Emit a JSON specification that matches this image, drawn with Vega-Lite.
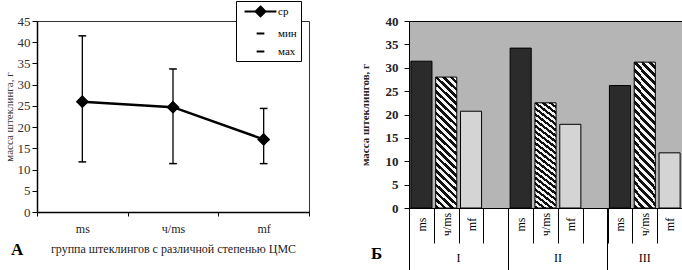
{
 "$schema": "https://vega.github.io/schema/vega-lite/v6.json",
 "padding": {"left": 2, "top": 0, "right": 1, "bottom": 0},
 "background": "white",
 "spacing": 48,
 "config": {"font": "Liberation Serif"},
 "datasets": {
  "a": [
   {"g": "ms", "s": "ср", "v": 26.0},
   {"g": "ms", "s": "мин", "v": 11.8},
   {"g": "ms", "s": "мах", "v": 41.5},
   {"g": "ч/ms", "s": "ср", "v": 24.7},
   {"g": "ч/ms", "s": "мин", "v": 11.4},
   {"g": "ч/ms", "s": "мах", "v": 33.7},
   {"g": "mf", "s": "ср", "v": 17.1},
   {"g": "mf", "s": "мин", "v": 11.4},
   {"g": "mf", "s": "мах", "v": 24.4}
  ],
  "b": [
   {"grp": "I", "t": "ms", "slot": "I|ms", "v": 31.4},
   {"grp": "I", "t": "ч/ms", "slot": "I|ч/ms", "v": 28.0},
   {"grp": "I", "t": "mf", "slot": "I|mf", "v": 20.7},
   {"grp": "II", "t": "ms", "slot": "II|ms", "v": 34.2},
   {"grp": "II", "t": "ч/ms", "slot": "II|ч/ms", "v": 22.5},
   {"grp": "II", "t": "mf", "slot": "II|mf", "v": 17.9},
   {"grp": "III", "t": "ms", "slot": "III|ms", "v": 26.2},
   {"grp": "III", "t": "ч/ms", "slot": "III|ч/ms", "v": 31.2},
   {"grp": "III", "t": "mf", "slot": "III|mf", "v": 11.8}
  ]
 },
 "hconcat": [
  {
   "width": 272,
   "height": 191,
   "view": {"stroke": "#333", "strokeWidth": 1},
   "title": {"text": "А", "orient": "bottom", "anchor": "start", "frame": "bounds", "font": "Liberation Serif", "fontSize": 17, "fontWeight": "bold", "color": "black", "offset": 0, "dx": 8, "dy": -12},
   "data": {"name": "a"},
   "layer": [
    {
     "mark": {"type": "rule", "color": "black", "strokeWidth": 1.3},
     "encoding": {
      "x": {"field": "g", "type": "nominal", "scale": {"type": "band", "domain": ["ms", "ч/ms", "mf"], "paddingInner": 0, "paddingOuter": 0},
            "axis": {"tickBand": "extent", "tickSize": 4, "tickColor": "black", "domainColor": "black", "domainWidth": 1.5, "labelAngle": 0, "labelFont": "Liberation Serif", "labelFontSize": 12, "labelColor": "#222", "labelPadding": 7, "title": "группа штеклингов с различной степенью ЦМС", "titleFont": "Liberation Serif", "titleFontSize": 12, "titleFontWeight": "normal", "titleColor": "#222", "titlePadding": 9, "grid": false}},
      "y": {"aggregate": "min", "field": "v", "type": "quantitative", "title": "масса штеклинга, г", "scale": {"domain": [0, 45], "nice": false},
            "axis": {"values": [0, 5, 10, 15, 20, 25, 30, 35, 40, 45], "labelOverlap": false, "tickSize": 5, "tickColor": "black", "domainColor": "black", "domainWidth": 1.5, "labelFont": "Liberation Serif", "labelFontSize": 13, "labelColor": "#333", "labelPadding": 2, "titleFont": "Liberation Serif", "titleFontSize": 11, "titleFontWeight": "normal", "titleColor": "#333", "titlePadding": 3, "grid": false}},
      "y2": {"aggregate": "max", "field": "v"}
     }
    },
    {
     "transform": [{"filter": "datum.s === 'ср'"}],
     "mark": {"type": "line", "color": "black", "strokeWidth": 2.5},
     "encoding": {
      "x": {"field": "g", "type": "nominal", "scale": {"type": "band", "domain": ["ms", "ч/ms", "mf"], "paddingInner": 0, "paddingOuter": 0}},
      "y": {"field": "v", "type": "quantitative", "title": "масса штеклинга, г", "scale": {"domain": [0, 45], "nice": false},
            "axis": {"values": [0, 5, 10, 15, 20, 25, 30, 35, 40, 45], "labelOverlap": false, "tickSize": 5, "tickColor": "black", "domainColor": "black", "domainWidth": 1.5, "labelFont": "Liberation Serif", "labelFontSize": 13, "labelColor": "#333", "labelPadding": 2, "titleFont": "Liberation Serif", "titleFontSize": 11, "titleFontWeight": "normal", "titleColor": "#333", "titlePadding": 3, "grid": false}}
     }
    },
    {
     "mark": {"type": "point", "filled": true, "color": "black", "stroke": "black", "strokeWidth": 1.5, "opacity": 1, "size": 121},
     "encoding": {
      "x": {"field": "g", "type": "nominal", "scale": {"type": "band", "domain": ["ms", "ч/ms", "mf"], "paddingInner": 0, "paddingOuter": 0}},
      "y": {"field": "v", "type": "quantitative", "title": "масса штеклинга, г", "scale": {"domain": [0, 45], "nice": false},
            "axis": {"values": [0, 5, 10, 15, 20, 25, 30, 35, 40, 45], "labelOverlap": false, "tickSize": 5, "tickColor": "black", "domainColor": "black", "domainWidth": 1.5, "labelFont": "Liberation Serif", "labelFontSize": 13, "labelColor": "#333", "labelPadding": 2, "titleFont": "Liberation Serif", "titleFontSize": 11, "titleFontWeight": "normal", "titleColor": "#333", "titlePadding": 3, "grid": false}},
      "shape": {"condition": {"test": "datum.s === 'ср'", "value": "M0,-1L1,0L0,1L-1,0Z"},
        "field": "s", "type": "nominal",
        "scale": {"domain": ["ср", "мин", "мах"], "range": ["M-2.9,0H2.9M0,-0.9L0.9,0L0,0.9L-0.9,0Z", "M-0.7,0H0.7", "M-0.7,0H0.7"]},
        "legend": {"orient": "none", "legendX": 199, "legendY": -20, "title": null, "fillColor": "white", "strokeColor": "black", "padding": 4, "rowPadding": 6, "symbolOffset": 14, "labelOffset": 11, "labelFont": "Liberation Serif", "labelFontSize": 11, "labelColor": "black", "symbolSize": 121, "symbolStrokeWidth": 2,
          "encode": {"legend": {"strokeWidth": {"value": 1.8}}}}}
     }
    }
   ]
  },
  {
   "width": 273,
   "height": 187,
   "view": {"fill": "#b5b5b5", "stroke": "black", "strokeWidth": 1},
   "title": {"text": "Б", "orient": "bottom", "anchor": "start", "frame": "bounds", "font": "Liberation Serif", "fontSize": 17, "fontWeight": "bold", "color": "black", "offset": 0, "dx": 12, "dy": -26},
   "data": {"name": "b"},
   "layer": [
    {
     "transform": [{"filter": "datum.t === 'ms'"}],
     "mark": {"type": "bar", "fill": "#2b2b2b", "stroke": "black", "strokeWidth": 1, "width": {"band": 0.85}},
     "encoding": {
      "x": {"field": "slot", "type": "nominal", "scale": {"type": "band", "domain": ["I|ms", "I|ч/ms", "I|mf", "I|", "II|ms", "II|ч/ms", "II|mf", "II|", "III|ms", "III|ч/ms", "III|mf"], "paddingInner": 0, "paddingOuter": 0},
            "axis": {"orient": "bottom", "title": null, "tickBand": "extent", "tickSize": 35, "tickColor": "black", "tickWidth": 1, "domainColor": "black", "labelAngle": -90, "labelAlign": "center", "labelBaseline": "middle", "labelPadding": -19, "labelExpr": "split(datum.value, '|')[1]", "labelFont": "Liberation Serif", "labelFontSize": 12, "labelColor": "black", "labelOverlap": false, "grid": false}},
      "y": {"field": "v", "type": "quantitative", "title": "масса штеклингов, г", "scale": {"domain": [0, 40], "nice": false},
            "axis": {"values": [0, 5, 10, 15, 20, 25, 30, 35, 40], "labelOverlap": false, "tickSize": 5, "tickColor": "black", "domainColor": "black", "labelFont": "Liberation Serif", "labelFontSize": 13, "labelFontWeight": "bold", "labelColor": "#222", "labelPadding": 6, "titleFont": "Liberation Serif", "titleFontSize": 11, "titleFontWeight": "bold", "titleColor": "#222", "titlePadding": 15, "grid": false}}
     }
    },
    {
     "transform": [{"filter": "datum.t === 'ч/ms'"}],
     "mark": {"type": "bar", "stroke": "black", "strokeWidth": 1, "width": {"band": 0.85},
       "fill": {"gradient": "linear", "x1": 0, "y1": 1, "x2": 0.174, "y2": -0.127, "stops": [
        {"offset": 0, "color": "#111"}, {"offset": 0.02381, "color": "#111"}, {"offset": 0.02381, "color": "#f4f4f4"}, {"offset": 0.04762, "color": "#f4f4f4"},
        {"offset": 0.04762, "color": "#111"}, {"offset": 0.07143, "color": "#111"}, {"offset": 0.07143, "color": "#f4f4f4"}, {"offset": 0.09524, "color": "#f4f4f4"},
        {"offset": 0.09524, "color": "#111"}, {"offset": 0.11905, "color": "#111"}, {"offset": 0.11905, "color": "#f4f4f4"}, {"offset": 0.14286, "color": "#f4f4f4"},
        {"offset": 0.14286, "color": "#111"}, {"offset": 0.16667, "color": "#111"}, {"offset": 0.16667, "color": "#f4f4f4"}, {"offset": 0.19048, "color": "#f4f4f4"},
        {"offset": 0.19048, "color": "#111"}, {"offset": 0.21429, "color": "#111"}, {"offset": 0.21429, "color": "#f4f4f4"}, {"offset": 0.2381, "color": "#f4f4f4"},
        {"offset": 0.2381, "color": "#111"}, {"offset": 0.2619, "color": "#111"}, {"offset": 0.2619, "color": "#f4f4f4"}, {"offset": 0.28571, "color": "#f4f4f4"},
        {"offset": 0.28571, "color": "#111"}, {"offset": 0.30952, "color": "#111"}, {"offset": 0.30952, "color": "#f4f4f4"}, {"offset": 0.33333, "color": "#f4f4f4"},
        {"offset": 0.33333, "color": "#111"}, {"offset": 0.35714, "color": "#111"}, {"offset": 0.35714, "color": "#f4f4f4"}, {"offset": 0.38095, "color": "#f4f4f4"},
        {"offset": 0.38095, "color": "#111"}, {"offset": 0.40476, "color": "#111"}, {"offset": 0.40476, "color": "#f4f4f4"}, {"offset": 0.42857, "color": "#f4f4f4"},
        {"offset": 0.42857, "color": "#111"}, {"offset": 0.45238, "color": "#111"}, {"offset": 0.45238, "color": "#f4f4f4"}, {"offset": 0.47619, "color": "#f4f4f4"},
        {"offset": 0.47619, "color": "#111"}, {"offset": 0.5, "color": "#111"}, {"offset": 0.5, "color": "#f4f4f4"}, {"offset": 0.52381, "color": "#f4f4f4"},
        {"offset": 0.52381, "color": "#111"}, {"offset": 0.54762, "color": "#111"}, {"offset": 0.54762, "color": "#f4f4f4"}, {"offset": 0.57143, "color": "#f4f4f4"},
        {"offset": 0.57143, "color": "#111"}, {"offset": 0.59524, "color": "#111"}, {"offset": 0.59524, "color": "#f4f4f4"}, {"offset": 0.61905, "color": "#f4f4f4"},
        {"offset": 0.61905, "color": "#111"}, {"offset": 0.64286, "color": "#111"}, {"offset": 0.64286, "color": "#f4f4f4"}, {"offset": 0.66667, "color": "#f4f4f4"},
        {"offset": 0.66667, "color": "#111"}, {"offset": 0.69048, "color": "#111"}, {"offset": 0.69048, "color": "#f4f4f4"}, {"offset": 0.71429, "color": "#f4f4f4"},
        {"offset": 0.71429, "color": "#111"}, {"offset": 0.7381, "color": "#111"}, {"offset": 0.7381, "color": "#f4f4f4"}, {"offset": 0.7619, "color": "#f4f4f4"},
        {"offset": 0.7619, "color": "#111"}, {"offset": 0.78571, "color": "#111"}, {"offset": 0.78571, "color": "#f4f4f4"}, {"offset": 0.80952, "color": "#f4f4f4"},
        {"offset": 0.80952, "color": "#111"}, {"offset": 0.83333, "color": "#111"}, {"offset": 0.83333, "color": "#f4f4f4"}, {"offset": 0.85714, "color": "#f4f4f4"},
        {"offset": 0.85714, "color": "#111"}, {"offset": 0.88095, "color": "#111"}, {"offset": 0.88095, "color": "#f4f4f4"}, {"offset": 0.90476, "color": "#f4f4f4"},
        {"offset": 0.90476, "color": "#111"}, {"offset": 0.92857, "color": "#111"}, {"offset": 0.92857, "color": "#f4f4f4"}, {"offset": 0.95238, "color": "#f4f4f4"},
        {"offset": 0.95238, "color": "#111"}, {"offset": 0.97619, "color": "#111"}, {"offset": 0.97619, "color": "#f4f4f4"}, {"offset": 1, "color": "#f4f4f4"}
       ]}},
     "encoding": {
      "x": {"field": "slot", "type": "nominal", "scale": {"type": "band", "domain": ["I|ms", "I|ч/ms", "I|mf", "I|", "II|ms", "II|ч/ms", "II|mf", "II|", "III|ms", "III|ч/ms", "III|mf"], "paddingInner": 0, "paddingOuter": 0},
            "axis": {"orient": "bottom", "title": null, "values": ["I|ms", "II|ms", "III|ms"], "bandPosition": 0, "tickSize": 63, "tickColor": "black", "domain": false, "labelExpr": "split(datum.value, '|')[0]", "labelOffset": {"condition": {"test": "datum.value === 'III|ms'", "value": 24.8}, "value": 37.2}, "labelPadding": -19, "labelAngle": 0, "labelAlign": "center", "labelBaseline": "top", "labelFont": "Liberation Serif", "labelFontSize": 12, "labelColor": "black", "grid": false}},
      "y": {"field": "v", "type": "quantitative", "title": "масса штеклингов, г", "scale": {"domain": [0, 40], "nice": false},
            "axis": {"values": [0, 5, 10, 15, 20, 25, 30, 35, 40], "labelOverlap": false, "tickSize": 5, "tickColor": "black", "domainColor": "black", "labelFont": "Liberation Serif", "labelFontSize": 13, "labelFontWeight": "bold", "labelColor": "#222", "labelPadding": 6, "titleFont": "Liberation Serif", "titleFontSize": 11, "titleFontWeight": "bold", "titleColor": "#222", "titlePadding": 15, "grid": false}}
     }
    },
    {
     "transform": [{"filter": "datum.t === 'mf'"}],
     "mark": {"type": "bar", "fill": "#d4d4d4", "stroke": "black", "strokeWidth": 1, "width": {"band": 0.85}},
     "encoding": {
      "x": {"field": "slot", "type": "nominal", "scale": {"type": "band", "domain": ["I|ms", "I|ч/ms", "I|mf", "I|", "II|ms", "II|ч/ms", "II|mf", "II|", "III|ms", "III|ч/ms", "III|mf"], "paddingInner": 0, "paddingOuter": 0},
            "axis": {"orient": "bottom", "title": null, "values": ["III|mf"], "bandPosition": 1, "tickSize": 63, "tickColor": "black", "domain": false, "labels": false, "grid": false}},
      "y": {"field": "v", "type": "quantitative", "title": "масса штеклингов, г", "scale": {"domain": [0, 40], "nice": false},
            "axis": {"values": [0, 5, 10, 15, 20, 25, 30, 35, 40], "labelOverlap": false, "tickSize": 5, "tickColor": "black", "domainColor": "black", "labelFont": "Liberation Serif", "labelFontSize": 13, "labelFontWeight": "bold", "labelColor": "#222", "labelPadding": 6, "titleFont": "Liberation Serif", "titleFontSize": 11, "titleFontWeight": "bold", "titleColor": "#222", "titlePadding": 15, "grid": false}}
     }
    }
   ],
   "resolve": {"axis": {"x": "independent"}}
  }
 ]
}
